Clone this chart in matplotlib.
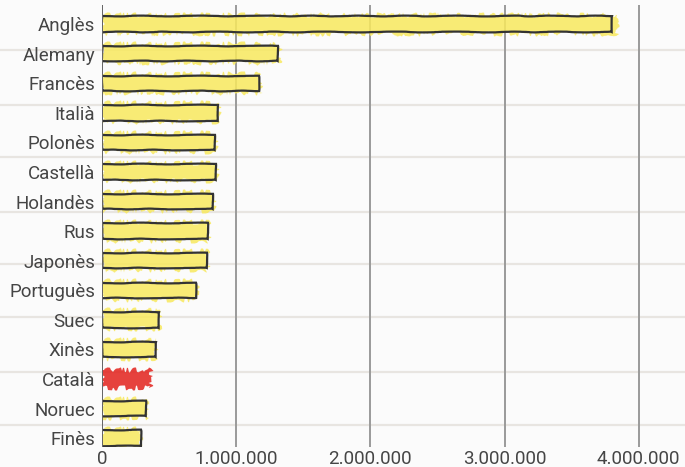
import matplotlib
matplotlib.use("Agg")
import matplotlib.pyplot as plt
from matplotlib.ticker import FuncFormatter

languages = ["Anglès", "Alemany", "Francès", "Italià", "Polonès", "Castellà",
             "Holandès", "Rus", "Japonès", "Portuguès", "Suec", "Xinès",
             "Català", "Noruec", "Finès"]
titles = [3800000, 1310000, 1170000, 865000, 840000, 850000,
          830000, 790000, 780000, 700000, 425000, 400000,
          365000, 330000, 290000]
highlight = "Català"
x_ticks = [0, 1000000, 2000000, 3000000, 4000000]

plt.rcParams["font.family"] = ["Roboto", "DejaVu Sans"]

fig = plt.figure(figsize=(6.85, 4.67), dpi=100)
fig.patch.set_facecolor("#fbfbfb")
ax = fig.add_axes([102 / 685, 20 / 467, 583 / 685, 442 / 467])
ax.set_facecolor("none")

# faint ruled-paper lines across the whole sheet
for yp in [50, 105, 157, 212, 264, 317, 372, 425]:
    fig.add_artist(plt.Line2D([0, 1], [1 - yp / 467] * 2, color="#e8e5e1",
                              lw=1.6, transform=fig.transFigure, zorder=0))

ypos = list(range(len(languages)))
for y, (lang, val) in enumerate(zip(languages, titles)):
    face = "#e3211b" if lang == highlight else "#f8e95e"
    # loose marker-like fill that spills slightly outside the outline
    fill = ax.barh(y, val * 1.01, height=0.64, color=face, alpha=0.85,
                   edgecolor="none", zorder=2)
    for p in fill:
        p.set_sketch_params(scale=2.5, length=18, randomness=40)
    if lang != highlight:
        edge = ax.barh(y, val, height=0.52, facecolor="none",
                       edgecolor="#333333", lw=1.6, zorder=3)
        for p in edge:
            p.set_sketch_params(scale=0.4, length=120, randomness=10)

# one row = 29.4 px, first row centred 24 px from the top
ax.set_ylim(14.3, -0.646)
ax.set_xlim(0, 4.345e6)
ax.set_yticks(ypos)
ax.set_yticklabels(languages)
ax.set_xticks(x_ticks)
ax.xaxis.set_major_formatter(FuncFormatter(lambda v, p: f"{int(v):,}".replace(",", ".")))

ax.grid(axis="x", color="#9a9a9a", lw=1.4, zorder=1)
ax.axvline(0, color="#666666", lw=1.4, zorder=4)
for s in ax.spines.values():
    s.set_visible(False)
ax.tick_params(axis="both", length=0, labelsize=13.5, colors="#454545")
ax.tick_params(axis="y", pad=5)
ax.tick_params(axis="x", pad=2)

fig.savefig("out.png", dpi=100, facecolor=fig.get_facecolor())
